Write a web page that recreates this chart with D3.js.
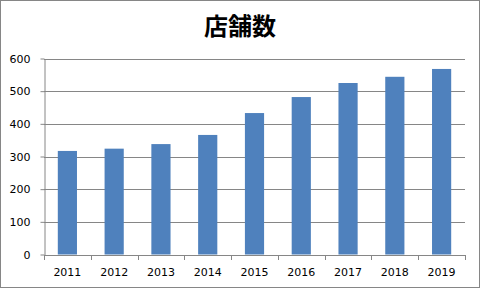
<!DOCTYPE html>
<html>
<head>
<meta charset="utf-8">
<script src="https://cdn.jsdelivr.net/npm/d3@7"></script>
<style>
  body { margin: 0; background: #fff; }
  svg text { font-family: "DejaVu Sans", "Liberation Sans", sans-serif; }
</style>
</head>
<body>
<div id="chart"></div>
<script>
// values
let years = ['2011', '2012', '2013', '2014', '2015', '2016', '2017', '2018', '2019'];
let stores = [317, 324, 338, 366, 433, 482, 525, 544, 568];
let yTicks = [0, 100, 200, 300, 400, 500, 600];
let title = '店舗数';

let width = 481;
let height = 289;
let margin = { top: 58.5, right: 16, bottom: 34.5, left: 44 };

let svg = d3.select('#chart')
  .append('svg')
  .attr('width', width)
  .attr('height', height);

// outer frame
svg.append('rect')
  .attr('x', 0.5).attr('y', 0.5)
  .attr('width', width - 2).attr('height', height - 2)
  .attr('fill', 'white')
  .attr('stroke', '#868686');

svg.append('text')
  .attr('x', 240)
  .attr('y', 35)
  .attr('text-anchor', 'middle')
  .style('font-family', '"Noto Sans CJK JP", sans-serif')
  .style('font-weight', 'bold')
  .style('font-size', '24px')
  .text(title);

let x = d3.scaleBand()
  .domain(years)
  .range([margin.left, width - margin.right])
  .paddingInner(0.59)
  .paddingOuter(0.295);

let y = d3.scaleLinear()
  .domain([0, 600])
  .range([height - margin.bottom, margin.top]);

// gridlines
svg.append('g')
  .selectAll('line')
  .data(yTicks.slice(1))
  .enter()
  .append('line')
  .attr('x1', margin.left)
  .attr('x2', width - margin.right)
  .attr('y1', d => Math.round(y(d)) + 0.5)
  .attr('y2', d => Math.round(y(d)) + 0.5)
  .attr('stroke', '#868686');

// bars
svg.append('g')
  .selectAll('rect')
  .data(stores)
  .enter()
  .append('rect')
  .attr('x', (d, i) => x(years[i]))
  .attr('y', d => y(d))
  .attr('width', x.bandwidth())
  .attr('height', d => y(0) - y(d))
  .attr('fill', '#4F81BD');

// y axis
let yAxis = svg.append('g')
  .attr('transform', 'translate(' + (margin.left + 0.5) + ',0)')
  .call(d3.axisLeft(y).tickValues(yTicks).tickSize(4).tickPadding(10).tickSizeOuter(0));
yAxis.selectAll('line, path').attr('stroke', '#868686');
yAxis.selectAll('text').style('font-size', '11px').attr('fill', '#000');

// x axis with ticks at category boundaries
let x0 = y(0);
let xAxis = svg.append('g');
xAxis.append('line')
  .attr('x1', margin.left).attr('x2', width - margin.right)
  .attr('y1', Math.round(x0) + 0.5).attr('y2', Math.round(x0) + 0.5)
  .attr('stroke', '#868686');
xAxis.selectAll('line.tick')
  .data(d3.range(years.length + 1))
  .enter()
  .append('line')
  .attr('class', 'tick')
  .attr('x1', i => Math.round(margin.left + i * (width - margin.right - margin.left) / years.length) + 0.5)
  .attr('x2', i => Math.round(margin.left + i * (width - margin.right - margin.left) / years.length) + 0.5)
  .attr('y1', Math.round(x0))
  .attr('y2', Math.round(x0) + 5)
  .attr('stroke', '#868686');
xAxis.selectAll('text')
  .data(years)
  .enter()
  .append('text')
  .attr('x', d => x(d) + x.bandwidth() / 2)
  .attr('y', x0 + 21)
  .attr('text-anchor', 'middle')
  .style('font-size', '11px')
  .text(d => d);
</script>
</body>
</html>
